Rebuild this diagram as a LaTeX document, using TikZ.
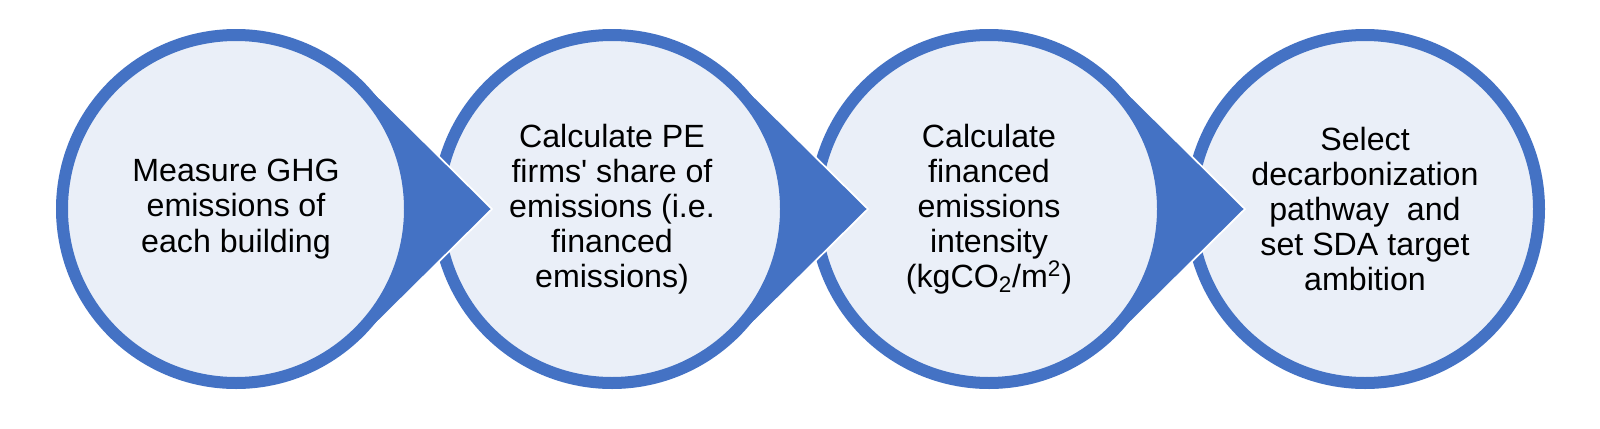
\documentclass[tikz,border=0pt]{standalone}
\usepackage{fontspec}
\setmainfont{Liberation Sans}
\usetikzlibrary{calc}
\definecolor{stepblue}{HTML}{4472C4}
\definecolor{steplight}{HTML}{EAEFF8}
\begin{document}
\begin{tikzpicture}[
  stage/.style={circle, minimum size=6.96cm, inner sep=0pt, draw=stepblue, line width=0.24cm,
    fill=steplight, align=center, font=\fontsize{18.3}{20}\selectfont, text=black},
  pointer/.style={fill=stepblue, draw=white, line width=0.035cm, line join=miter}
]
\useasboundingbox (0,0) rectangle (32,8.56);
\coordinate (c1) at (4.72,4.38);
\coordinate (c2) at (12.24,4.38);
\coordinate (c3) at (19.78,4.38);
\coordinate (c4) at (27.30,4.38);
\coordinate (t1) at ($(c1)+(5.12,0)$);
\coordinate (t2) at ($(c2)+(5.12,0)$);
\coordinate (t3) at ($(c3)+(5.12,0)$);

\node[stage] (s4) at (c4) {Select\\decarbonization\\pathway~ and\\set SDA target\\ambition};

\path[pointer] (t3) -- ($(c3)+(45.3:3.6)$) -- ($(c3)+(-45.3:3.6)$) -- cycle;
\node[stage] (s3) at (c3) {Calculate\\financed\\emissions\\intensity\\(kgCO\textsubscript{2}/m\textsuperscript{2})};

\path[pointer] (t2) -- ($(c2)+(45.3:3.6)$) -- ($(c2)+(-45.3:3.6)$) -- cycle;
\node[stage] (s2) at (c2) {Calculate PE\\firms\textquotesingle{} share of\\emissions (i.e.\\financed\\emissions)};

\path[pointer] (t1) -- ($(c1)+(45.3:3.6)$) -- ($(c1)+(-45.3:3.6)$) -- cycle;
\node[stage] (s1) at (c1) {Measure GHG\\emissions of\\each building};
\end{tikzpicture}
\end{document}
